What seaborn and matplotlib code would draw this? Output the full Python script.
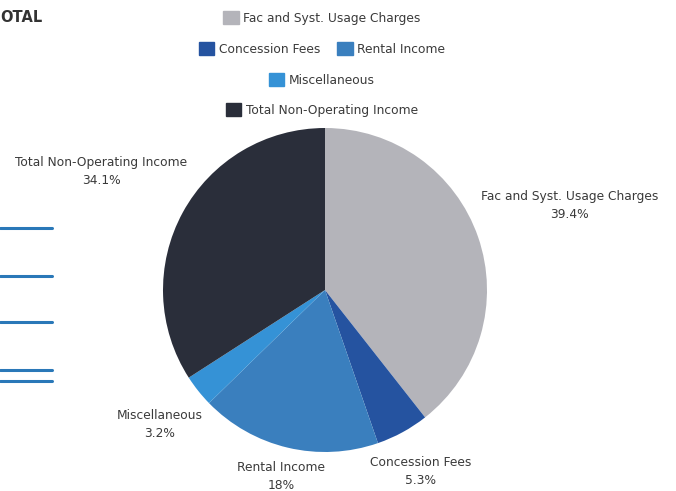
import matplotlib
matplotlib.use("Agg")
import matplotlib.pyplot as plt
import matplotlib.patches as mpatches
import seaborn as sns

# data
categories = ["Fac and Syst. Usage Charges", "Concession Fees", "Rental Income",
              "Miscellaneous", "Total Non-Operating Income"]
shares = [39.4, 5.3, 18.0, 3.2, 34.1]
pct_labels = ["39.4%", "5.3%", "18%", "3.2%", "34.1%"]
colors = ["#b4b4ba", "#2553a0", "#3a7fbe", "#3592d6", "#2a2e3a"]

sns.set_theme(style="white")
plt.rcParams["font.family"] = ["DejaVu Sans"]

fig = plt.figure(figsize=(6.76, 4.91), dpi=100)
fig.patch.set_facecolor("white")

# pie centred at (325, 290) px, radius 162 px
W, H = 676, 491
ax = fig.add_axes([(325 - 162) / W, (H - 452) / H, 324 / W, 324 / H])
wedges, _ = ax.pie(shares, colors=colors, startangle=90, counterclock=False,
                   wedgeprops=dict(linewidth=0))
ax.set_xlim(-1, 1)
ax.set_ylim(-1, 1)
ax.set_aspect("equal")
ax.axis("off")

# outside labels (name + percent)
label_pos = {
    "Fac and Syst. Usage Charges": (1.51, 0.52),
    "Concession Fees": (0.59, -1.12),
    "Rental Income": (-0.27, -1.15),
    "Miscellaneous": (-1.02, -0.83),
    "Total Non-Operating Income": (-1.38, 0.73),
}
for name, pct in zip(categories, pct_labels):
    x, y = label_pos[name]
    ax.text(x, y, name + "\n" + pct, ha="center", va="center", fontsize=8.8,
            color="#3a3a3a", linespacing=1.5, clip_on=False)

# legend rows, flow layout centred over the pie
handles = {c: mpatches.Patch(color=col) for c, col in zip(categories, colors)}
rows = [["Fac and Syst. Usage Charges"],
        ["Concession Fees", "Rental Income"],
        ["Miscellaneous"],
        ["Total Non-Operating Income"]]
row_y = [18, 49, 80, 110]
for row, yy in zip(rows, row_y):
    leg = fig.legend([handles[r] for r in row], row, loc="center",
                     bbox_to_anchor=(322 / W, 1 - yy / H), ncol=len(row),
                     frameon=False, fontsize=8.8, handlelength=1.25, handleheight=1.25,
                     handletextpad=0.4, columnspacing=1.4, labelcolor="#3a3a3a")

# page fragments around the chart
fig.text(0, 1 - 18 / H, "OTAL", fontsize=10.5, fontweight="bold", color="#333333",
         va="center", ha="left")
for yy in [228, 276, 322, 370, 381]:
    fig.add_artist(plt.Line2D([0, 52 / W], [1 - yy / H, 1 - yy / H],
                              color="#2a78b8", linewidth=2.2))

fig.savefig("out.png", dpi=100)
